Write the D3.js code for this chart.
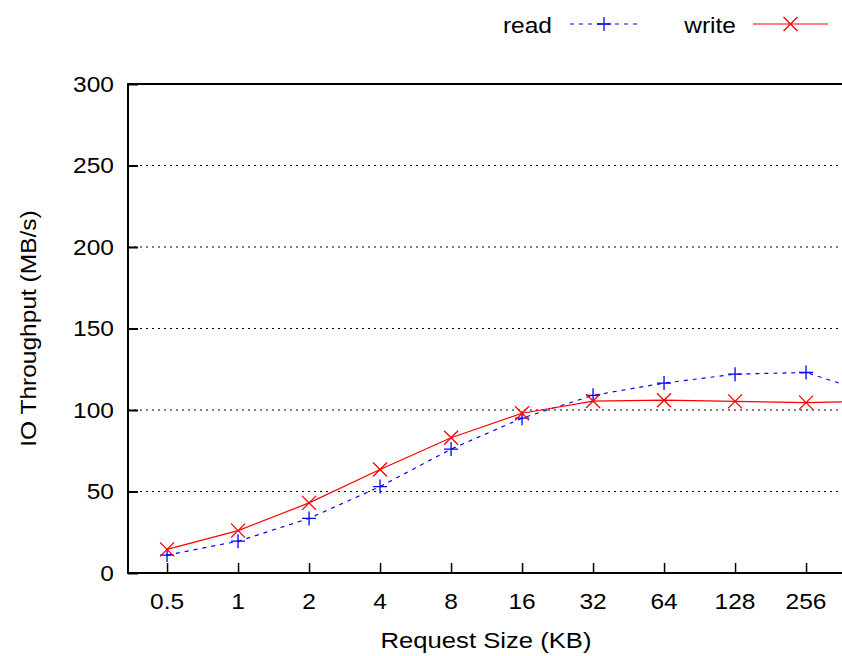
<!DOCTYPE html>
<html>
<head>
<meta charset="utf-8">
<script src="https://cdn.jsdelivr.net/npm/d3@7"></script>
<style>
  body { margin: 0; background: #fff; }
  svg { display: block; font-family: "Liberation Sans", Arial, sans-serif; }
</style>
</head>
<body>
<div id="chart"></div>
<script>
// data
const sizes = ["0.5", "1", "2", "4", "8", "16", "32", "64", "128", "256", "512"];
const readVals = [11, 19.5, 33.5, 53, 76, 95, 109, 116.5, 122, 123, 109];
const writeVals = [14.5, 26, 43, 63.5, 83, 98, 105.5, 106, 105.3, 104.5, 105.5];
const yTicks = [0, 50, 100, 150, 200, 250, 300];

const width = 842;
const height = 656;
const plotLeft = 128, plotTop = 84, plotBottom = 573;
const step = 71;
const plotRight = plotLeft + step * (sizes.length + 0.1); // plot runs past the window edge
const fs = 21.5;      // tick / legend font size
const stretch = 1.14; // the source image is a bit wider than tall

let svg = d3.select("#chart")
    .append("svg")
    .attr("width", width)
    .attr("height", height);

// scales
let xScale = d3.scalePoint()
    .domain(sizes)
    .range([plotLeft + step * 0.55, plotLeft + step * 0.55 + step * (sizes.length - 1)]);
let yScale = d3.scaleLinear()
    .domain([0, 300])
    .range([plotBottom, plotTop]);

// grid
svg.append("g")
    .selectAll("line")
    .data(yTicks.filter(d => d > 0 && d < 300))
    .enter()
    .append("line")
    .attr("x1", plotLeft)
    .attr("x2", plotRight)
    .attr("y1", d => yScale(d))
    .attr("y2", d => yScale(d))
    .attr("stroke", "#000")
    .attr("stroke-width", 1)
    .attr("stroke-dasharray", "2,4");

// y axis (ticks inward)
let yAxis = svg.append("g")
    .attr("transform", "translate(" + plotLeft + ",0)")
    .call(d3.axisRight(yScale).tickValues(yTicks).tickSize(10).tickPadding(0).tickFormat(""));
yAxis.select(".domain").remove();
yAxis.selectAll("line").attr("stroke", "#000").attr("stroke-width", 2);

svg.append("g")
    .selectAll("text")
    .data(yTicks)
    .enter()
    .append("text")
    .attr("transform", d => "translate(" + (plotLeft - 14) + "," + (yScale(d) + 7.5) + ") scale(" + stretch + ",1)")
    .attr("text-anchor", "end")
    .attr("font-size", fs)
    .text(d => d);

// x axis (ticks inward)
let xAxis = svg.append("g")
    .attr("transform", "translate(0," + plotBottom + ")")
    .call(d3.axisTop(xScale).tickSize(10).tickFormat(""));
xAxis.select(".domain").remove();
xAxis.selectAll("line").attr("stroke", "#000").attr("stroke-width", 1.5);

// only the labels that fall inside the window are shown in the source
svg.append("g")
    .selectAll("text")
    .data(sizes.filter(d => xScale(d) < width - 20))
    .enter()
    .append("text")
    .attr("transform", d => "translate(" + xScale(d) + "," + (plotBottom + 36) + ") scale(" + stretch + ",1)")
    .attr("text-anchor", "middle")
    .attr("font-size", fs)
    .text(d => d);

// border
svg.append("path")
    .attr("d", "M" + plotRight + "," + plotTop + "H" + plotLeft + "V" + plotBottom + "H" + plotRight)
    .attr("fill", "none")
    .attr("stroke", "#000")
    .attr("stroke-width", 2);

// axis titles
svg.append("text")
    .attr("transform", "translate(486,648) scale(" + stretch + ",1)")
    .attr("text-anchor", "middle")
    .attr("font-size", fs + 1)
    .text("Request Size (KB)");

svg.append("text")
    .attr("transform", "translate(36," + ((plotTop + plotBottom) / 2) + ") rotate(-90) scale(" + stretch + ",1)")
    .attr("text-anchor", "middle")
    .attr("font-size", fs)
    .text("IO Throughput (MB/s)");

// series
const line = d3.line()
    .x((d, i) => xScale(sizes[i]))
    .y(d => yScale(d));

const plusPath = s => "M" + (-s) + ",0H" + s + "M0," + (-s) + "V" + s;
const crossPath = s => "M" + (-s) + "," + (-s) + "L" + s + "," + s + "M" + (-s) + "," + s + "L" + s + "," + (-s);

const series = [
    { name: "read", values: readVals, color: "#0000ff", dash: "4,5", marker: plusPath },
    { name: "write", values: writeVals, color: "#ff0000", dash: null, marker: crossPath }
];

series.forEach(s => {
    svg.append("path")
        .datum(s.values)
        .attr("d", line)
        .attr("fill", "none")
        .attr("stroke", s.color)
        .attr("stroke-width", 1.2)
        .attr("stroke-dasharray", s.dash);

    svg.append("g")
        .selectAll("path")
        .data(s.values)
        .enter()
        .append("path")
        .attr("transform", (d, i) => "translate(" + xScale(sizes[i]) + "," + yScale(d) + ")")
        .attr("d", s.marker(7))
        .attr("fill", "none")
        .attr("stroke", s.color)
        .attr("stroke-width", 1.3);
});

// legend
const legendPos = [
    { text: "read", textX: 552, x1: 570, x2: 638 },
    { text: "write", textX: 736, x1: 753, x2: 828 }
];
legendPos.forEach((p, i) => {
    const s = series[i];
    const ly = 24;
    svg.append("text")
        .attr("transform", "translate(" + p.textX + "," + (ly + 9) + ") scale(" + stretch + ",1)")
        .attr("text-anchor", "end")
        .attr("font-size", fs)
        .text(p.text);
    svg.append("line")
        .attr("x1", p.x1).attr("x2", p.x2)
        .attr("y1", ly).attr("y2", ly)
        .attr("stroke", s.color)
        .attr("stroke-width", 1.2)
        .attr("stroke-dasharray", s.dash);
    svg.append("path")
        .attr("transform", "translate(" + ((p.x1 + p.x2) / 2) + "," + ly + ")")
        .attr("d", s.marker(7))
        .attr("fill", "none")
        .attr("stroke", s.color)
        .attr("stroke-width", 1.3);
});
</script>
</body>
</html>
